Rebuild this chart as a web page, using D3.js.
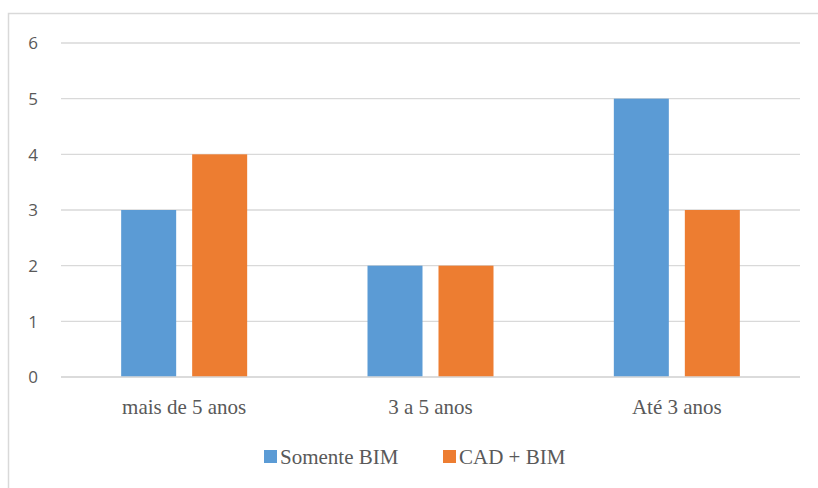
<!DOCTYPE html>
<html><head><meta charset="utf-8">
<script src="https://cdn.jsdelivr.net/npm/d3@7"></script>
</head><body style="margin:0">
<svg id="c" width="818" height="488"></svg>
<script>
const categories = ["mais de 5 anos", "3 a 5 anos", "Até 3 anos"];
const seriesNames = ["Somente BIM", "CAD + BIM"];
const somenteBIM = [3, 2, 5];
const cadBIM = [4, 2, 3];
const yTicks = [0, 1, 2, 3, 4, 5, 6];
const colors = ["#5b9bd5", "#ed7d31"];

const svg = d3.select("#c");
svg.append("path").attr("d", "M8.5,488 L8.5,13.5 L818,13.5")
  .attr("fill", "none").attr("stroke", "#d9d9d9").attr("stroke-width", 1.5);

const x0 = d3.scaleBand().domain(categories).range([61, 800]);
const y = d3.scaleLinear().domain([0, 6]).range([377, 43]);

svg.append("g").selectAll("line").data(yTicks).join("line")
  .attr("x1", 61).attr("x2", 800)
  .attr("y1", d => y(d)).attr("y2", d => y(d))
  .attr("stroke", "#d9d9d9").attr("stroke-width", 1.3);

// y labels
const yAxis = d3.axisLeft(y).tickValues(yTicks).tickSize(0).tickPadding(0).tickFormat(d3.format("d"));
const ya = svg.append("g").attr("transform", "translate(33,0)").call(yAxis);
ya.select(".domain").remove();
ya.attr("font-family", "Open Sans").attr("font-size", 17);
ya.selectAll("text")
  .style("font-family", "'Open Sans'").style("font-size", "17px").style("fill", "#595959")
  .attr("text-anchor", "middle").attr("dy", "0.35em");

const data = categories.map((c, i) => ({cat: c, vals: [somenteBIM[i], cadBIM[i]]}));
const barW = 55, gap = 16;
const g = svg.append("g");
data.forEach(d => {
  const cx = x0(d.cat) + x0.bandwidth() / 2;
  d.vals.forEach((v, j) => {
    const bx = j === 0 ? cx - gap / 2 - barW : cx + gap / 2;
    g.append("rect").attr("x", bx).attr("width", barW)
      .attr("y", y(v)).attr("height", y(0) - y(v)).attr("fill", colors[j]);
  });
});
svg.append("line").attr("x1", 61).attr("x2", 800).attr("y1", y(0)).attr("y2", y(0))
  .attr("stroke", "#d9d9d9").attr("stroke-width", 1.3);

// x labels
const xAxis = d3.axisBottom(x0).tickSize(0).tickPadding(0);
const xa = svg.append("g").attr("transform", "translate(0,414)").call(xAxis);
xa.select(".domain").remove();
xa.attr("font-family", "Liberation Serif").attr("font-size", 21);
xa.selectAll("text").attr("dy", 0)
  .style("font-family", "'Liberation Serif'").style("font-size", "21px").style("fill", "#595959");

// legend
const leg = svg.append("g");
const legItems = [{x: 264, t: seriesNames[0]}, {x: 443, t: seriesNames[1]}];
legItems.forEach((it, i) => {
  leg.append("rect").attr("x", it.x).attr("y", 450).attr("width", 13).attr("height", 13).attr("fill", colors[i]);
  leg.append("text").attr("x", it.x + 16).attr("y", 464)
    .style("font-family", "'Liberation Serif'").style("font-size", "21px").style("fill", "#595959")
    .text(it.t);
});
</script>
</body></html>
